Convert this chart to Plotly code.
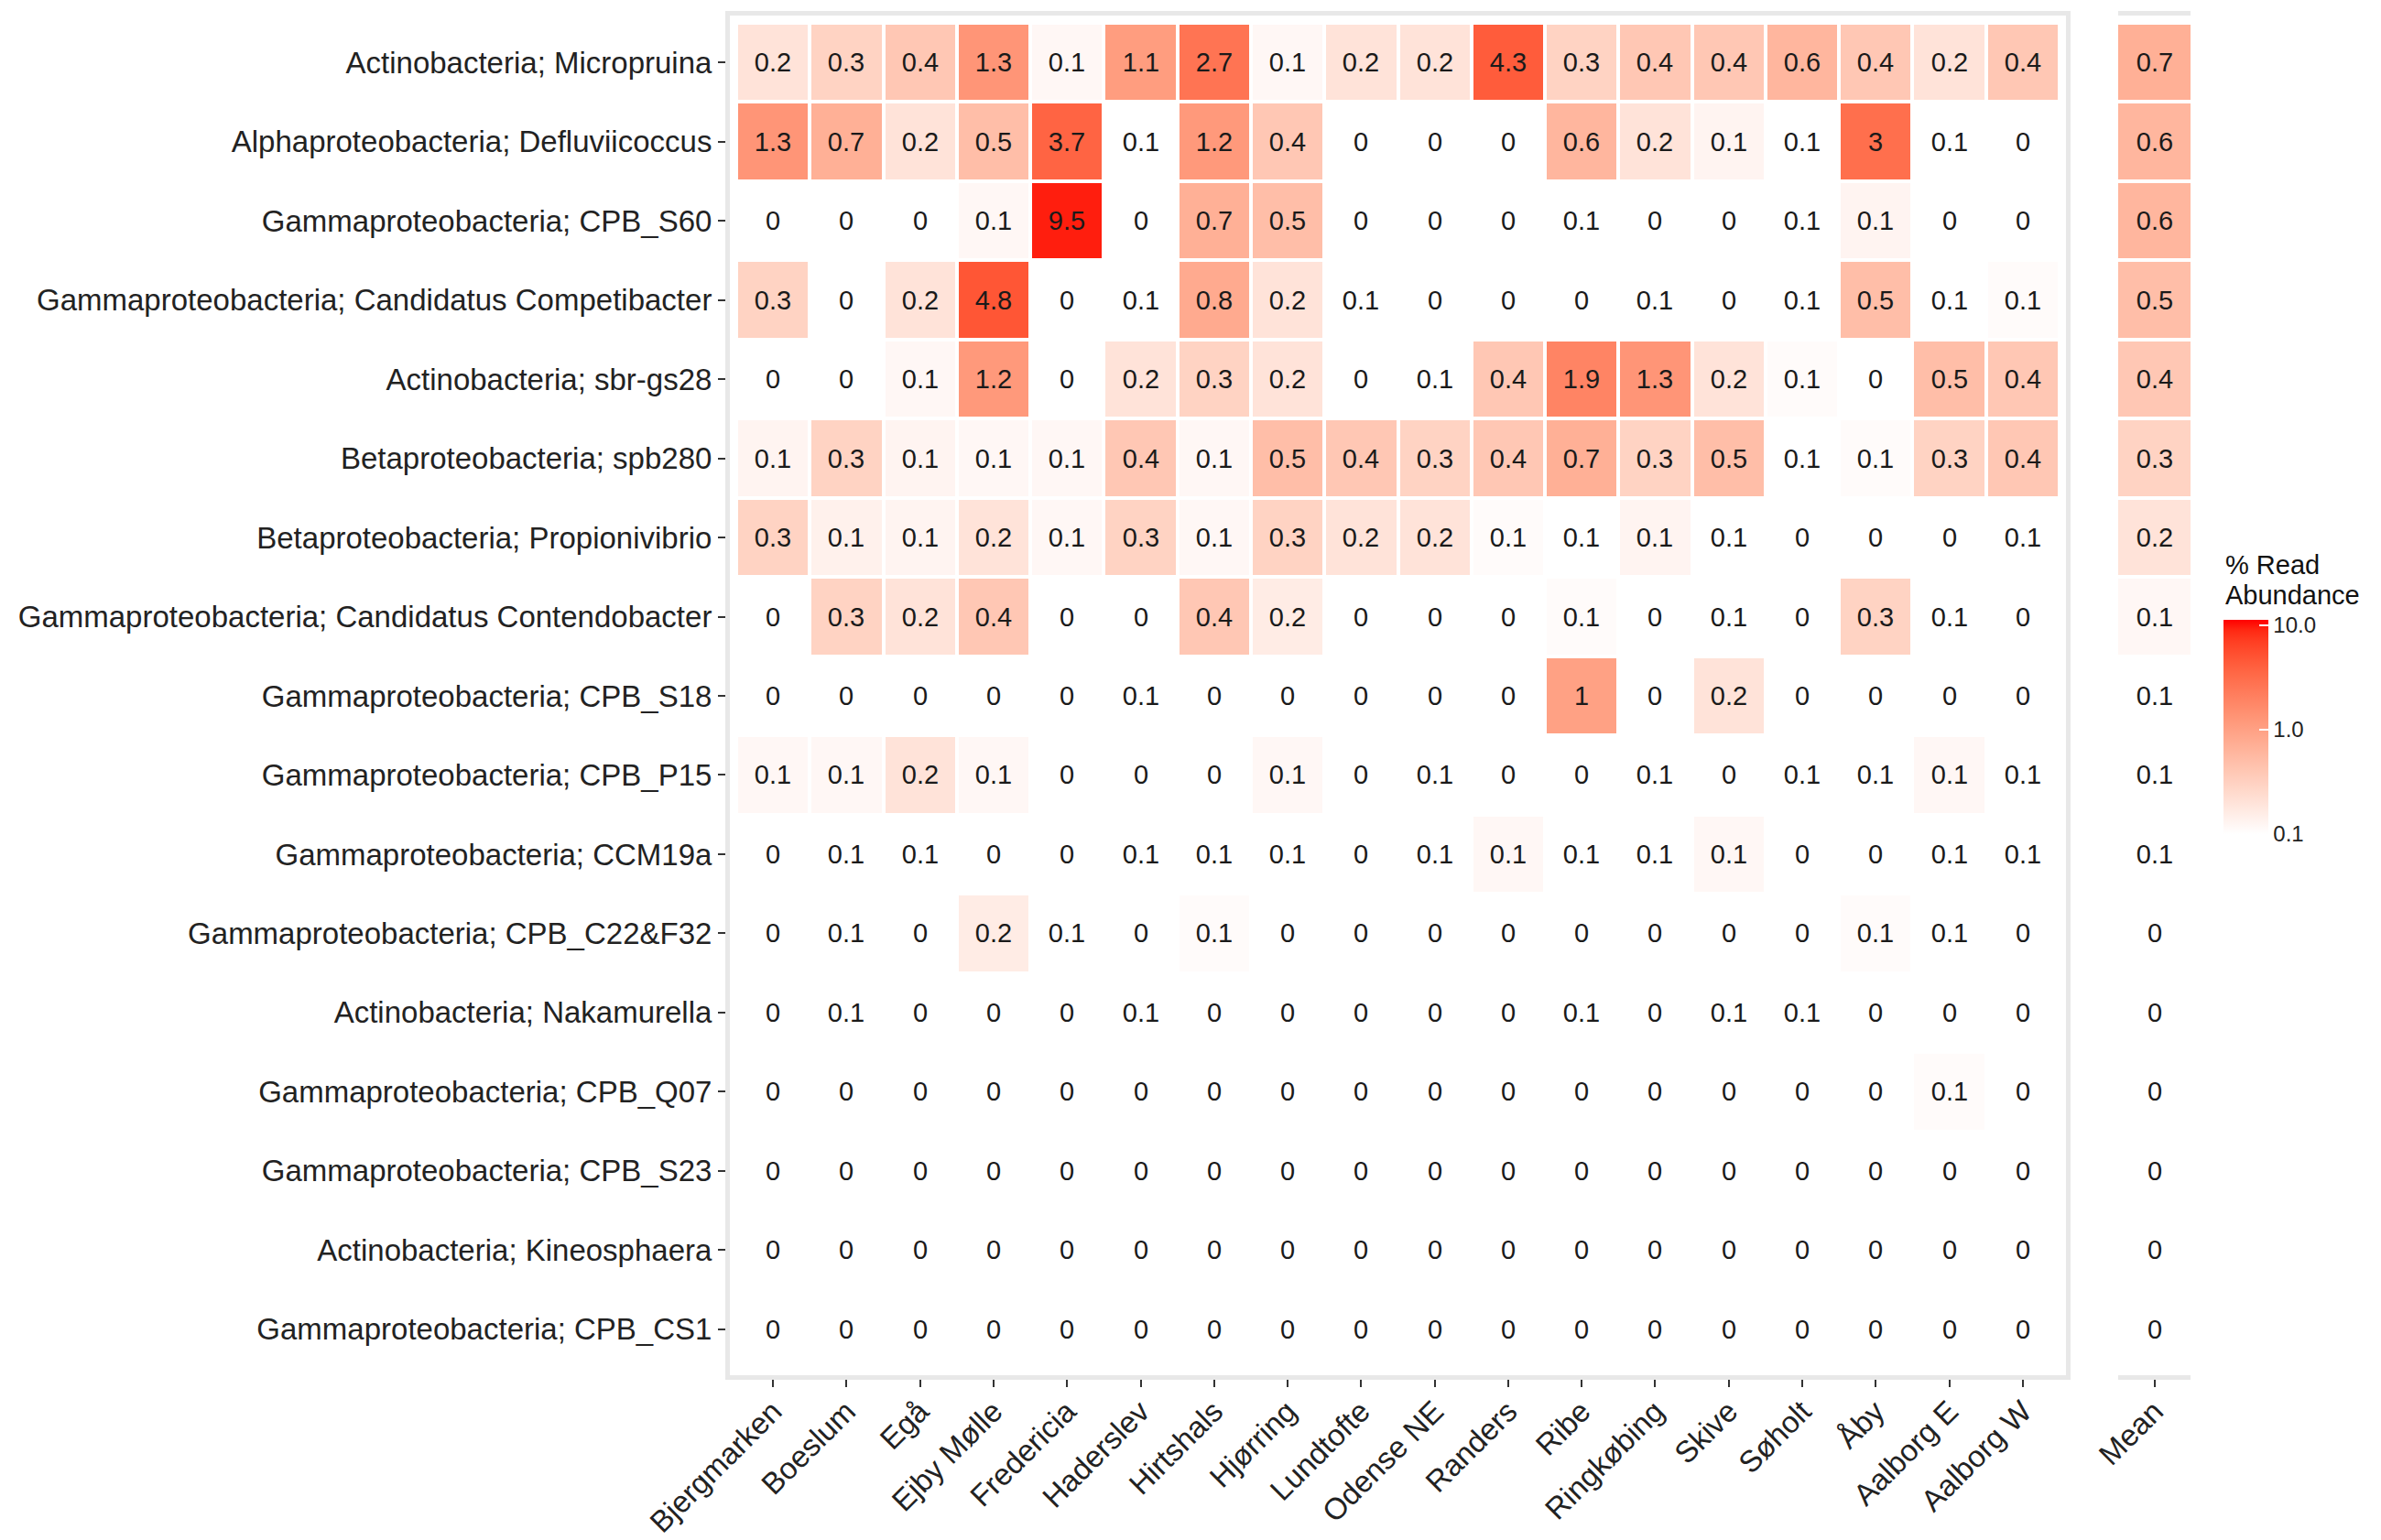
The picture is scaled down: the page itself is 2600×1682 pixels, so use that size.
import math
import plotly.graph_objects as go

# ---------------- data ----------------
sites = ["Bjergmarken", "Boeslum", "Egå", "Ejby Mølle", "Fredericia", "Haderslev",
         "Hirtshals", "Hjørring", "Lundtofte", "Odense NE", "Randers", "Ribe",
         "Ringkøbing", "Skive", "Søholt", "Åby", "Aalborg E", "Aalborg W"]

taxa = ["Actinobacteria; Micropruina",
        "Alphaproteobacteria; Defluviicoccus",
        "Gammaproteobacteria; CPB_S60",
        "Gammaproteobacteria; Candidatus Competibacter",
        "Actinobacteria; sbr-gs28",
        "Betaproteobacteria; spb280",
        "Betaproteobacteria; Propionivibrio",
        "Gammaproteobacteria; Candidatus Contendobacter",
        "Gammaproteobacteria; CPB_S18",
        "Gammaproteobacteria; CPB_P15",
        "Gammaproteobacteria; CCM19a",
        "Gammaproteobacteria; CPB_C22&F32",
        "Actinobacteria; Nakamurella",
        "Gammaproteobacteria; CPB_Q07",
        "Gammaproteobacteria; CPB_S23",
        "Actinobacteria; Kineosphaera",
        "Gammaproteobacteria; CPB_CS1"]

micropruina    = [0.2, 0.3, 0.4, 1.3, 0.12, 1.1, 2.7, 0.12, 0.2, 0.2, 4.3, 0.3, 0.4, 0.4, 0.6, 0.4, 0.2, 0.4]
defluviicoccus = [1.3, 0.7, 0.2, 0.5, 3.7, 0.08, 1.2, 0.4, 0, 0, 0, 0.6, 0.2, 0.13, 0.07, 3.0, 0.08, 0]
cpb_s60        = [0, 0, 0, 0.12, 9.5, 0, 0.7, 0.5, 0, 0, 0, 0.08, 0, 0, 0.07, 0.13, 0, 0]
competibacter  = [0.3, 0, 0.2, 4.8, 0, 0.08, 0.8, 0.2, 0.07, 0, 0, 0, 0.07, 0, 0.08, 0.5, 0.08, 0.11]
sbr_gs28       = [0, 0, 0.12, 1.2, 0, 0.2, 0.3, 0.2, 0, 0.08, 0.4, 1.9, 1.3, 0.2, 0.11, 0, 0.5, 0.4]
spb280         = [0.13, 0.3, 0.13, 0.12, 0.12, 0.4, 0.12, 0.5, 0.4, 0.3, 0.4, 0.7, 0.3, 0.5, 0.08, 0.11, 0.3, 0.4]
propionivibrio = [0.3, 0.14, 0.13, 0.2, 0.12, 0.3, 0.12, 0.3, 0.2, 0.2, 0.11, 0.08, 0.13, 0.08, 0, 0, 0, 0.08]
contendobacter = [0, 0.3, 0.2, 0.4, 0, 0, 0.4, 0.16, 0, 0, 0, 0.11, 0, 0.08, 0, 0.3, 0.08, 0]
cpb_s18        = [0, 0, 0, 0, 0, 0.08, 0, 0, 0, 0, 0, 1.0, 0, 0.2, 0, 0, 0, 0]
cpb_p15        = [0.12, 0.12, 0.2, 0.12, 0, 0, 0, 0.12, 0, 0.08, 0, 0, 0.08, 0, 0.08, 0.08, 0.12, 0.08]
ccm19a         = [0, 0.08, 0.08, 0, 0, 0.08, 0.08, 0.08, 0, 0.08, 0.12, 0.08, 0.08, 0.12, 0, 0, 0.08, 0.08]
cpb_c22_f32    = [0, 0.08, 0, 0.16, 0.08, 0, 0.11, 0, 0, 0, 0, 0, 0, 0, 0, 0.11, 0.08, 0]
nakamurella    = [0, 0.08, 0, 0, 0, 0.08, 0, 0, 0, 0, 0, 0.08, 0, 0.08, 0.08, 0, 0, 0]
cpb_q07        = [0, 0, 0, 0, 0, 0, 0, 0, 0, 0, 0, 0, 0, 0, 0, 0, 0.11, 0]
cpb_s23        = [0, 0, 0, 0, 0, 0, 0, 0, 0, 0, 0, 0, 0, 0, 0, 0, 0, 0]
kineosphaera   = [0, 0, 0, 0, 0, 0, 0, 0, 0, 0, 0, 0, 0, 0, 0, 0, 0, 0]
cpb_cs1        = [0, 0, 0, 0, 0, 0, 0, 0, 0, 0, 0, 0, 0, 0, 0, 0, 0, 0]

mean_values = [0.7, 0.6, 0.6, 0.5, 0.4, 0.3, 0.2, 0.12, 0.08, 0.08, 0.07, 0, 0, 0, 0, 0, 0]

legend_ticks = [0.1, 1.0, 10.0]
legend_ticktext = ["0.1", "1.0", "10.0"]
legend_title = ["% Read", "Abundance"]

abundance = [micropruina, defluviicoccus, cpb_s60, competibacter, sbr_gs28, spb280,
             propionivibrio, contendobacter, cpb_s18, cpb_p15, ccm19a, cpb_c22_f32,
             nakamurella, cpb_q07, cpb_s23, kineosphaera, cpb_cs1]


# ---------------- helpers ----------------
def fmt(v):
    s = f"{v:.1f}"
    return s[:-2] if s.endswith(".0") else s


def logv(v):
    return math.log10(v) if v > 0 else -3.0


def _lin(c):
    c /= 255.0
    return c / 12.92 if c <= 0.04045 else ((c + 0.055) / 1.055) ** 2.4


def _gam(c):
    c = 12.92 * c if c <= 0.0031308 else 1.055 * c ** (1 / 2.4) - 0.055
    return max(0, min(255, round(c * 255)))


def rgb2lab(rgb):
    r, g, b = (_lin(c) for c in rgb)
    X = (0.4124 * r + 0.3576 * g + 0.1805 * b) / 0.95047
    Y = (0.2126 * r + 0.7152 * g + 0.0722 * b)
    Z = (0.0193 * r + 0.1192 * g + 0.9505 * b) / 1.08883
    f = lambda t: t ** (1 / 3) if t > 0.008856 else 7.787 * t + 16 / 116
    fx, fy, fz = f(X), f(Y), f(Z)
    return 116 * fy - 16, 500 * (fx - fy), 200 * (fy - fz)


def lab2rgb(lab):
    L, a, b = lab
    fy = (L + 16) / 116
    fx = fy + a / 500
    fz = fy - b / 200
    fi = lambda t: t ** 3 if t ** 3 > 0.008856 else (t - 16 / 116) / 7.787
    X, Y, Z = fi(fx) * 0.95047, fi(fy), fi(fz) * 1.08883
    r = 3.2406 * X - 1.5372 * Y - 0.4986 * Z
    g = -0.9689 * X + 1.8758 * Y + 0.0415 * Z
    bb = 0.0557 * X - 0.2040 * Y + 1.0570 * Z
    return tuple(_gam(max(0.0, c)) for c in (r, g, bb))


lo, hi = rgb2lab((255, 255, 255)), rgb2lab((255, 0, 0))
nstops = 21
colorscale = []
for i in range(nstops):
    t = i / (nstops - 1)
    lab = tuple(lo[k] + (hi[k] - lo[k]) * t for k in range(3))
    r, g, b = lab2rgb(lab)
    colorscale.append([t, f"rgb({r},{g},{b})"])

z_main = [[logv(v) for v in row] for row in abundance]
t_main = [[fmt(v) for v in row] for row in abundance]
z_mean = [[logv(v)] for v in mean_values]
t_mean = [[fmt(v)] for v in mean_values]

FONT = "Liberation Sans, Arial, Helvetica, sans-serif"
W, H = 2600, 1682

fig = go.Figure()
fig.add_trace(go.Heatmap(
    x=sites, y=taxa, z=z_main, text=t_main, texttemplate="%{text}",
    textfont=dict(family=FONT, size=29, color="#1a1a1a"),
    coloraxis="coloraxis", xgap=4, ygap=4, hoverinfo="skip",
    xaxis="x", yaxis="y"))
fig.add_trace(go.Heatmap(
    x=["Mean"], y=taxa, z=z_mean, text=t_mean, texttemplate="%{text}",
    textfont=dict(family=FONT, size=29, color="#1a1a1a"),
    coloraxis="coloraxis", xgap=0, ygap=4, hoverinfo="skip",
    xaxis="x2", yaxis="y2"))

ny, nx = len(taxa), len(sites)
pad_x = 7 / 80.3
pad_top, pad_bot = 8 / 86.5, 7 / 86.5
yrange = [ny - 0.5 + pad_bot, -0.5 - pad_top]
line_col = "#E8E8E8"
tick_font = dict(family=FONT, size=33, color="#222222")

# colour bar: ticks at 0.1 (bottom) .. 10 (slightly below the bar top, as in ggplot)
c_lo = math.log10(legend_ticks[0])
c_hi = math.log10(legend_ticks[-1]) + 6 / 114

fig.update_layout(
    width=W, height=H,
    margin=dict(l=0, r=0, t=0, b=0, autoexpand=False),
    paper_bgcolor="white", plot_bgcolor="white",
    showlegend=False,
    xaxis=dict(domain=[797 / W, 2256 / W], range=[-0.5 - pad_x, nx - 0.5 + pad_x],
               type="category", categoryorder="array", categoryarray=sites,
               showline=True, mirror=True, linecolor=line_col, linewidth=5,
               showgrid=False, zeroline=False, ticks="outside", ticklen=8,
               tickwidth=2, tickcolor="#333333", tickangle=-45, tickfont=tick_font,
               ticklabelstandoff=-6, automargin=False, anchor="y"),
    yaxis=dict(domain=[1 - 1502 / H, 1 - 17 / H], range=yrange,
               type="category", categoryorder="array", categoryarray=taxa,
               showline=True, mirror=True, linecolor=line_col, linewidth=5,
               showgrid=False, zeroline=False, ticks="outside", ticklen=8,
               tickwidth=2, tickcolor="#333333", tickfont=tick_font,
               automargin=False, anchor="x"),
    xaxis2=dict(domain=[2313 / W, 2392 / W], range=[-0.5, 0.5], type="category",
                showline=True, mirror=True, linecolor=line_col, linewidth=5,
                showgrid=False, zeroline=False, ticks="outside", ticklen=8,
                tickwidth=2, tickcolor="#333333", tickangle=-45, tickfont=tick_font,
                ticklabelstandoff=-6, automargin=False, anchor="y2"),
    yaxis2=dict(domain=[1 - 1502 / H, 1 - 17 / H], range=yrange, type="category",
                categoryorder="array", categoryarray=taxa,
                showline=False, showgrid=False, zeroline=False, showticklabels=False,
                ticks="", automargin=False, anchor="x2"),
    coloraxis=dict(
        colorscale=colorscale, cmin=c_lo, cmax=c_hi,
        colorbar=dict(
            x=2428 / W, xanchor="left", y=1 - 911 / H, yanchor="bottom",
            len=234, lenmode="pixels", thickness=49, thicknessmode="pixels",
            xpad=0, ypad=0, outlinewidth=0,
            tickvals=[math.log10(v) for v in legend_ticks], ticktext=legend_ticktext,
            ticks="inside", ticklen=10, tickwidth=2, tickcolor="white",
            tickfont=dict(family=FONT, size=24, color="#222222"),
        ),
    ),
    annotations=[
        dict(text=legend_title[0], x=2428 / W, y=1 - 617 / H, xref="paper", yref="paper",
             xanchor="left", yanchor="middle", showarrow=False,
             font=dict(family=FONT, size=29, color="#111111")),
        dict(text=legend_title[1], x=2428 / W, y=1 - 650 / H, xref="paper", yref="paper",
             xanchor="left", yanchor="middle", showarrow=False,
             font=dict(family=FONT, size=29, color="#111111")),
    ],
)

fig.write_html("out.html", config={"displayModeBar": False},
               post_script="document.body.style.margin='0';")
